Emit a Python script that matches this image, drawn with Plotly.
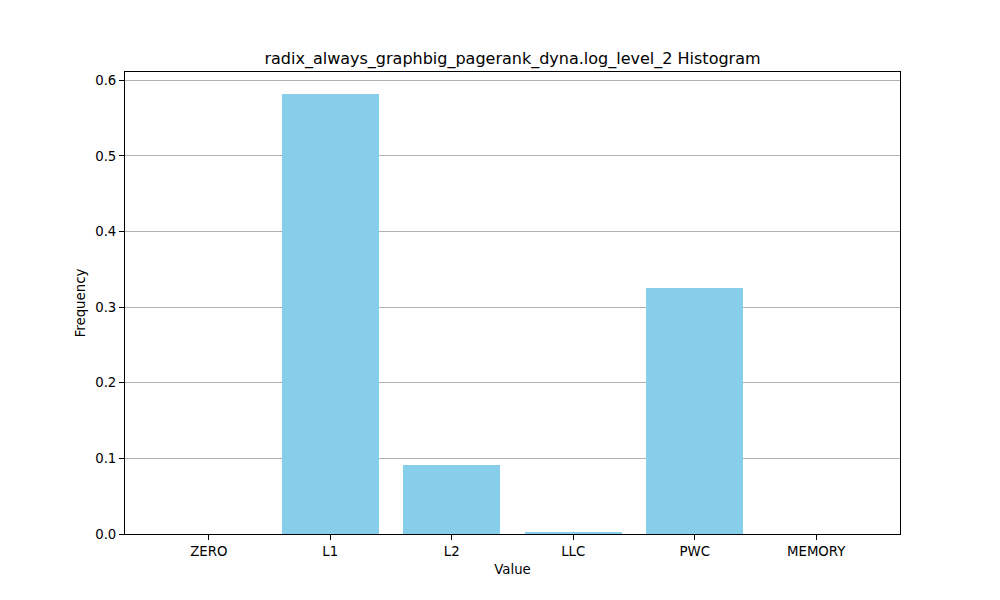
import plotly.graph_objects as go

categories = ["ZERO", "L1", "L2", "LLC", "PWC", "MEMORY"]
frequencies = [0.0, 0.5819, 0.0913, 0.0026, 0.3254, 0.0]
y_ticks = [0.0, 0.1, 0.2, 0.3, 0.4, 0.5, 0.6]

x_idx = list(range(len(categories)))

fig = go.Figure(go.Bar(
    x=x_idx, y=frequencies, width=0.8,
    marker=dict(color="#87CEEB", line=dict(width=0)),
))

font = "DejaVu Sans"
fig.update_layout(
    width=1000, height=600,
    margin=dict(l=117, r=108, t=64, b=74),
    paper_bgcolor="white", plot_bgcolor="white",
    font=dict(family=font, size=13.3, color="black"),
    title=dict(text="radix_always_graphbig_pagerank_dyna.log_level_2 Histogram",
               x=(117 + 775 / 2) / 1000, xanchor="center", y=1 - 50/600, yanchor="middle",
               font=dict(size=16, family=font, color="black")),
    showlegend=False,
    bargap=0,
)
fig.update_xaxes(
    range=[-0.69, 5.69], tickmode="array", tickvals=x_idx, ticktext=categories,
    ticks="outside", ticklen=5, tickwidth=1, tickcolor="black",
    showline=True, linecolor="black", linewidth=1, mirror=True,
    showgrid=False, zeroline=False,
    title=dict(text="Value", standoff=6, font=dict(size=13.3)),
)
fig.update_yaxes(
    range=[0, 0.611], tickmode="array", tickvals=y_ticks,
    ticktext=[f"{v:.1f}" for v in y_ticks],
    ticks="outside", ticklen=5, tickwidth=1, tickcolor="black",
    showline=True, linecolor="black", linewidth=1, mirror=True,
    showgrid=True, gridcolor="#b0b0b0", gridwidth=1, zeroline=False,
    title=dict(text="Frequency", standoff=6, font=dict(size=13.3)),
)

fig.write_html("out.html")
